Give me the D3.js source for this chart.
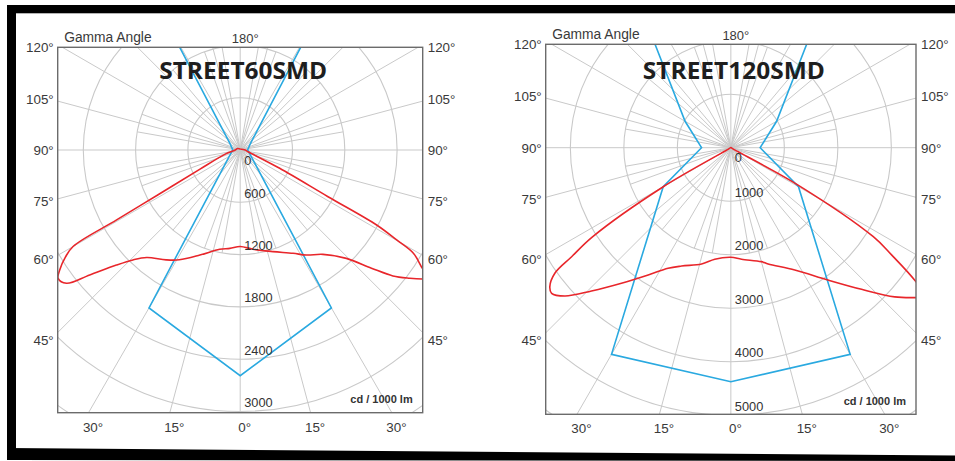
<!DOCTYPE html>
<html>
<head>
<meta charset="utf-8">
<script src="https://cdn.jsdelivr.net/npm/d3@7"></script>
<style>
  html, body { margin: 0; padding: 0; background: #fff; }
  svg { display: block; }
  text { font-family: "Liberation Sans", Arial, sans-serif; }
</style>
</head>
<body>
<svg id="grafico" width="955" height="461"></svg>
<script>
// 1. Datos (cd / 1000 lm), gamma en grados medido desde abajo (0) hacia arriba (180)
TITULOS = ['STREET60SMD', 'STREET120SMD']

ANILLOS_A = [0, 600, 1200, 1800, 2400, 3000]
ANILLOS_B = [0, 1000, 2000, 3000, 4000, 5000]
ANGULOS_LADO  = [120, 105, 90, 75, 60, 45]
ANGULOS_ABAJO = [-30, -15, 0, 15, 30]

// STREET60SMD - plano C0/C180 (rojo)
GAMMA_A_ROJO_IZQ = [0, 6, 11.7, 21, 29, 34, 41, 44.3, 47.1, 50.3, 52.5, 54.8, 56.4, 58.5, 60, 60.5, 61.4, 64.5, 75, 82, 90, 120, 180]
CD_A_ROJO_IZQ    = [1107, 1135, 1163, 1291, 1440, 1520, 1635, 1762, 1939, 2244, 2512, 2556, 2486, 2352, 2214, 1629, 1073, 516, 172, 84, 57, 34, 11]
GAMMA_A_ROJO_DER = [0, 7.3, 17.9, 27.1, 32.2, 38.4, 44.4, 48, 50.5, 52.9, 54.7, 55.8, 57, 59.2, 60.1, 61.2, 62, 65.1, 77.7, 90, 180]
CD_A_ROJO_DER    = [1107, 1148, 1225, 1331, 1424, 1528, 1740, 2026, 2271, 2439, 2561, 2627, 2492, 2313, 2071, 1786, 1141, 499, 92, 57, 11]
// STREET60SMD - plano C90/C270 (azul, simetrico)
GAMMA_AZUL = [0, 30, 60, 90, 120, 150]
CD_A_AZUL  = [2589, 2092, 145, 85, 130, 1650]

// STREET120SMD - plano C0/C180 (rojo)
GAMMA_B_ROJO_IZQ = [0, 8.2, 14.1, 22.6, 27.5, 33, 38.9, 44.2, 48.2, 50.9, 52.5, 54.5, 55.6, 57.2, 60, 65, 90, 180]
CD_B_ROJO_IZQ    = [2049, 2106, 2243, 2396, 2540, 2837, 3256, 3736, 4160, 4317, 4265, 4041, 3607, 3084, 1458, 19, 9, 0]
GAMMA_B_ROJO_DER = [0, 5.5, 15, 17.8, 27.6, 36.3, 42.7, 47.7, 51, 52.5, 54.1, 56.3, 58, 61, 65, 90, 180]
CD_B_ROJO_DER    = [2049, 2095, 2205, 2282, 2579, 3069, 3602, 4142, 4452, 4598, 4269, 3611, 3140, 1402, 19, 9, 0]
// STREET120SMD - plano C90/C270 (azul)
CD_B_AZUL = [4374, 4461, 1460, 548, 988, 4086]

// 2. Configuracion
COLOR_ROJO  = '#e8262b'
COLOR_AZUL  = '#2aa9e0'
COLOR_GRID  = '#c9c9c9'
COLOR_MARCO = '#6b6b6b'
COLOR_TEXTO = '#3a3a3a'

svg = d3.select('#grafico')

diagramas = [
  { id: 'a', titulo: TITULOS[0], anillos: ANILLOS_A, x0: 57.7, y0: 47.3, ancho: 365, alto: 365.4,
    cx: 240.2, cy: 150, pxAnillo: 52.3, tituloY: 78.5, tituloLargo: 168,
    rojo: [GAMMA_A_ROJO_IZQ, CD_A_ROJO_IZQ, GAMMA_A_ROJO_DER, CD_A_ROJO_DER],
    azul: [GAMMA_AZUL, CD_A_AZUL, GAMMA_AZUL, CD_A_AZUL] },
  { id: 'b', titulo: TITULOS[1], anillos: ANILLOS_B, x0: 545.7, y0: 44.3, ancho: 370.3, alto: 370,
    cx: 730.85, cy: 147.7, pxAnillo: 53.5, tituloY: 78.5, tituloLargo: 182,
    rojo: [GAMMA_B_ROJO_IZQ, CD_B_ROJO_IZQ, GAMMA_B_ROJO_DER, CD_B_ROJO_DER],
    azul: [GAMMA_AZUL, CD_B_AZUL, GAMMA_AZUL, CD_B_AZUL] }
]

// 3. Funciones
rad = g => g * Math.PI / 180

// convierte las dos mitades en una sola vuelta para lineRadial
function mediaVuelta(gIzq, cdIzq, gDer, cdDer) {
  izq = gIzq.map((g, i) => [Math.PI + rad(g), cdIzq[i]]).reverse()
  der = gDer.map((g, i) => [Math.PI - rad(g), cdDer[i]]).slice(1)
  return izq.concat(der)
}

function dibujarMarco() {
  svg.append('rect').attr('x', 7).attr('y', 5).attr('width', 948).attr('height', 8.3).attr('fill', '#000')
  svg.append('rect').attr('x', 7).attr('y', 5).attr('width', 9).attr('height', 455).attr('fill', '#000')
  svg.append('polygon').attr('points', '7,448 955,455.5 955,461 7,460').attr('fill', '#000')
}

function dibujarDiagrama(cfg) {
  x1 = cfg.x0 + cfg.ancho
  y1 = cfg.y0 + cfg.alto
  paso = cfg.anillos[1]
  fr = d3.scaleLinear().domain([0, paso]).range([0, cfg.pxAnillo])

  g = svg.append('g')
  g.append('clipPath').attr('id', 'clip' + cfg.id)
    .append('rect').attr('x', cfg.x0).attr('y', cfg.y0).attr('width', cfg.ancho).attr('height', cfg.alto)

  gp = g.append('g').attr('clip-path', `url(#clip${cfg.id})`)
    .append('g').attr('transform', `translate(${cfg.cx},${cfg.cy})`)

  // anillos
  rMax = Math.hypot(cfg.ancho / 2, y1 - cfg.cy)
  valores = d3.range(paso, fr.invert(rMax) + paso, paso)
  gp.selectAll('circle').data(valores).enter()
    .append('circle')
    .attr('r', d => fr(d))
    .attr('fill', 'none')
    .attr('stroke', COLOR_GRID)
    .attr('stroke-width', 1.1)

  // radios: cada 15 grados completos, cada 10 grados hasta el segundo anillo
  radios = d3.range(0, 360, 15).map(a => [a, rMax + 20])
    .concat(d3.range(0, 360, 10).filter(a => a % 15 != 0).map(a => [a, fr(2 * paso)]))
  gp.selectAll('line').data(radios).enter()
    .append('line')
    .attr('x1', 0).attr('y1', 0)
    .attr('x2', d => d[1] * Math.sin(rad(d[0])))
    .attr('y2', d => d[1] * Math.cos(rad(d[0])))
    .attr('stroke', COLOR_GRID)
    .attr('stroke-width', 1)

  // curvas
  lineaAzul = d3.lineRadial().angle(d => d[0]).radius(d => fr(d[1]))
  lineaRoja = d3.lineRadial().angle(d => d[0]).radius(d => fr(d[1])).curve(d3.curveCatmullRom.alpha(0.5))

  gp.append('path')
    .attr('d', lineaAzul(mediaVuelta(...cfg.azul)))
    .attr('fill', 'none').attr('stroke', COLOR_AZUL).attr('stroke-width', 1.6)
  gp.append('path')
    .attr('d', lineaRoja(mediaVuelta(...cfg.rojo)))
    .attr('fill', 'none').attr('stroke', COLOR_ROJO).attr('stroke-width', 1.6)
    .attr('stroke-linejoin', 'round')

  // caja
  g.append('rect')
    .attr('x', cfg.x0).attr('y', cfg.y0).attr('width', cfg.ancho).attr('height', cfg.alto)
    .attr('fill', 'none').attr('stroke', COLOR_MARCO).attr('stroke-width', 1.4)

  // etiquetas de anillos
  g.selectAll('text.anillo').data(cfg.anillos).enter()
    .append('text')
    .attr('class', 'anillo')
    .attr('x', cfg.cx + 4)
    .attr('y', d => d == 0 ? cfg.cy + 14.5 : cfg.cy + fr(d) - 4.5)
    .attr('font-size', 12.8)
    .attr('fill', '#333')
    .text(d => d)

  // etiquetas de angulos a los lados
  dxExt = cfg.ancho / 2 * 1.04
  yLado = a => Math.max(cfg.y0, cfg.cy + dxExt / Math.tan(rad(a))) + 4.8
  g.selectAll('text.izq').data(ANGULOS_LADO).enter()
    .append('text').attr('class', 'izq')
    .attr('x', cfg.x0 - 4).attr('y', yLado)
    .attr('text-anchor', 'end')
    .attr('font-size', 13.4).attr('fill', COLOR_TEXTO)
    .text(d => d + '°')
  g.selectAll('text.der').data(ANGULOS_LADO).enter()
    .append('text').attr('class', 'der')
    .attr('x', x1 + 5).attr('y', yLado)
    .attr('font-size', 13.4).attr('fill', COLOR_TEXTO)
    .text(d => d + '°')

  // etiquetas abajo
  g.selectAll('text.abajo').data(ANGULOS_ABAJO).enter()
    .append('text').attr('class', 'abajo')
    .attr('x', d => cfg.cx + (y1 - cfg.cy) * Math.tan(rad(d)) + 4.5)
    .attr('y', y1 + 18.8)
    .attr('text-anchor', 'middle')
    .attr('font-size', 13.4).attr('fill', COLOR_TEXTO)
    .text(d => Math.abs(d) + '°')

  g.append('text')
    .attr('x', cfg.cx + 5).attr('y', cfg.y0 - 4.8)
    .attr('text-anchor', 'middle')
    .attr('font-size', 13).attr('fill', COLOR_TEXTO)
    .text('180°')

  g.append('text')
    .attr('x', cfg.x0 + 6.5).attr('y', cfg.y0 - 5)
    .attr('font-size', 13.8).attr('fill', COLOR_TEXTO)
    .text('Gamma Angle')

  g.append('text')
    .attr('x', x1 - 10).attr('y', y1 - 9.5)
    .attr('text-anchor', 'end')
    .attr('font-size', 11).attr('font-weight', 'bold').attr('fill', '#333')
    .text('cd / 1000 lm')

  g.append('text')
    .attr('x', cfg.cx + 3).attr('y', cfg.tituloY)
    .attr('text-anchor', 'middle')
    .attr('textLength', cfg.tituloLargo)
    .attr('lengthAdjust', 'spacingAndGlyphs')
    .style('font-family', '"Open Sans", "Noto Sans", sans-serif')
    .attr('font-size', 23).attr('font-weight', 'bold').attr('fill', '#1e1e1e')
    .text(cfg.titulo)
}

// 4. Dibujar
dibujarMarco()
diagramas.forEach(dibujarDiagrama)
</script>
</body>
</html>
